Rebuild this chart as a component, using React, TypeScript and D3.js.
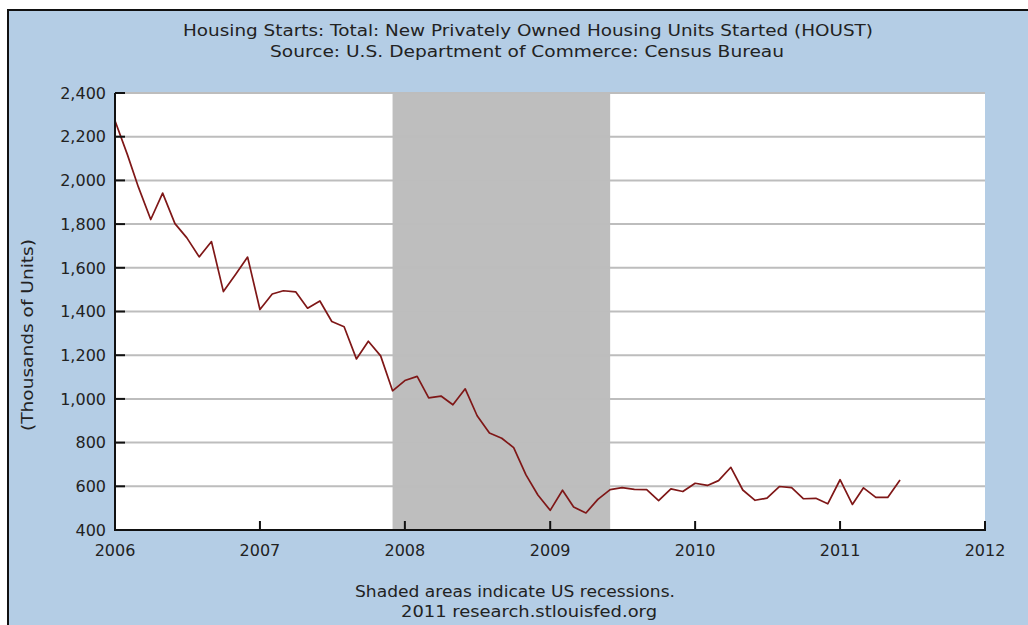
import React from "react";
import * as d3 from "d3";

const TITLE_LINES = [
  "Housing Starts: Total: New Privately Owned Housing Units Started (HOUST)",
  "Source: U.S. Department of Commerce: Census Bureau",
];
const FOOTER_LINES = ["Shaded areas indicate US recessions.", "2011 research.stlouisfed.org"];
const Y_LABEL = "(Thousands of Units)";

const START_YEAR = 2006;
// Monthly values, Jan 2006 - Jun 2011 (thousands of units, SAAR)
const HOUST_2006 = [2273, 2119, 1969, 1821, 1942, 1802, 1737, 1650, 1720, 1491, 1570, 1649];
const HOUST_2007 = [1409, 1480, 1495, 1490, 1415, 1448, 1354, 1330, 1183, 1264, 1197, 1037];
const HOUST_2008 = [1084, 1103, 1005, 1013, 973, 1046, 923, 844, 820, 777, 652, 560];
const HOUST_2009 = [490, 582, 505, 478, 540, 585, 594, 586, 585, 534, 588, 576];
const HOUST_2010 = [614, 604, 626, 687, 583, 536, 546, 599, 594, 543, 545, 520];
const HOUST_2011 = [630, 517, 593, 549, 549, 629];

const YEAR_TICKS = [2006, 2007, 2008, 2009, 2010, 2011, 2012];
const Y_TICKS = [400, 600, 800, 1000, 1200, 1400, 1600, 1800, 2000, 2200, 2400];
const RECESSION = { start: [2007, 11], end: [2009, 5] }; // year, month index

const ALL_VALUES = [HOUST_2006, HOUST_2007, HOUST_2008, HOUST_2009, HOUST_2010, HOUST_2011];

export default function App() {
  const W = 1028;
  const H = 625;
  const left = 115;
  const right = 985;
  const top = 93;
  const bottom = 530;

  const data: { date: Date; value: number }[] = [];
  ALL_VALUES.forEach((arr, yi) =>
    arr.forEach((v, mi) => data.push({ date: new Date(START_YEAR + yi, mi, 1), value: v }))
  );

  const x = d3
    .scaleTime()
    .domain([new Date(YEAR_TICKS[0], 0, 1), new Date(YEAR_TICKS[YEAR_TICKS.length - 1], 0, 1)])
    .range([left, right]);
  const y = d3.scaleLinear().domain([400, 2400]).range([bottom, top]);

  const line = d3
    .line<{ date: Date; value: number }>()
    .x((d) => x(d.date))
    .y((d) => y(d.value));

  const recX0 = x(new Date(RECESSION.start[0], RECESSION.start[1], 1));
  const recX1 = x(new Date(RECESSION.end[0], RECESSION.end[1], 1));

  const font = "'DejaVu Sans', Verdana, sans-serif";
  const textColor = "#222";
  const fs = 16;

  const titleLens = [690, 514];
  const titleX = [528, 527];
  const footerLens = [320, 256];
  const footerX = [515, 529];

  return (
    <svg
      width={W}
      height={H}
      style={{ position: "absolute", left: 0, top: 0, display: "block" }}
      fontFamily={font}
    >
      <rect x={0} y={0} width={W} height={H} fill="#ffffff" />
      <rect x={8} y={10} width={W} height={H} fill="#b4cde5" stroke="#111" strokeWidth={2} />
      {TITLE_LINES.map((t, i) => (
        <text
          key={t}
          x={titleX[i]}
          y={36 + i * 21}
          textAnchor="middle"
          fontSize={15.5}
          fill={textColor}
          textLength={titleLens[i]}
          lengthAdjust="spacingAndGlyphs"
        >
          {t}
        </text>
      ))}
      <rect x={left} y={top} width={right - left} height={bottom - top} fill="#ffffff" />
      <rect x={recX0} y={top} width={recX1 - recX0} height={bottom - top} fill="#bebebe" />
      {Y_TICKS.map((t) => (
        <line
          key={"g" + t}
          x1={left}
          x2={right}
          y1={y(t)}
          y2={y(t)}
          stroke="#bdbdbd"
          strokeWidth={2}
        />
      ))}
      <path d={line(data) || ""} fill="none" stroke="#7f1717" strokeWidth={1.7} strokeLinejoin="round" />
      {/* axes */}
      <line x1={left} x2={left} y1={top} y2={bottom + 1} stroke="#111" strokeWidth={2} />
      <line x1={left - 1} x2={right + 1} y1={bottom} y2={bottom} stroke="#111" strokeWidth={2} />
      {Y_TICKS.map((t) => (
        <g key={"y" + t}>
          <line x1={left} x2={left + 10} y1={y(t)} y2={y(t)} stroke="#111" strokeWidth={2} />
          <text
            x={left - 9}
            y={y(t)}
            dy="0.36em"
            textAnchor="end"
            fontSize={fs}
            fill={textColor}
          >
            {d3.format(",")(t)}
          </text>
        </g>
      ))}
      {YEAR_TICKS.map((yr) => {
        const px = x(new Date(yr, 0, 1));
        return (
          <g key={"x" + yr}>
            <line x1={px} x2={px} y1={bottom} y2={bottom - 9} stroke="#111" strokeWidth={2} />
            <text x={px} y={556} textAnchor="middle" fontSize={fs} fill={textColor}>
              {yr}
            </text>
          </g>
        );
      })}
      <text
        transform={`translate(33,335) rotate(-90)`}
        textAnchor="middle"
        fontSize={15.5}
        fill={textColor}
        textLength={192}
        lengthAdjust="spacingAndGlyphs"
      >
        {Y_LABEL}
      </text>
      {FOOTER_LINES.map((t, i) => (
        <text
          key={t}
          x={footerX[i]}
          y={597 + i * 20}
          textAnchor="middle"
          fontSize={15.5}
          fill={textColor}
          textLength={footerLens[i]}
          lengthAdjust="spacingAndGlyphs"
        >
          {t}
        </text>
      ))}
    </svg>
  );
}
